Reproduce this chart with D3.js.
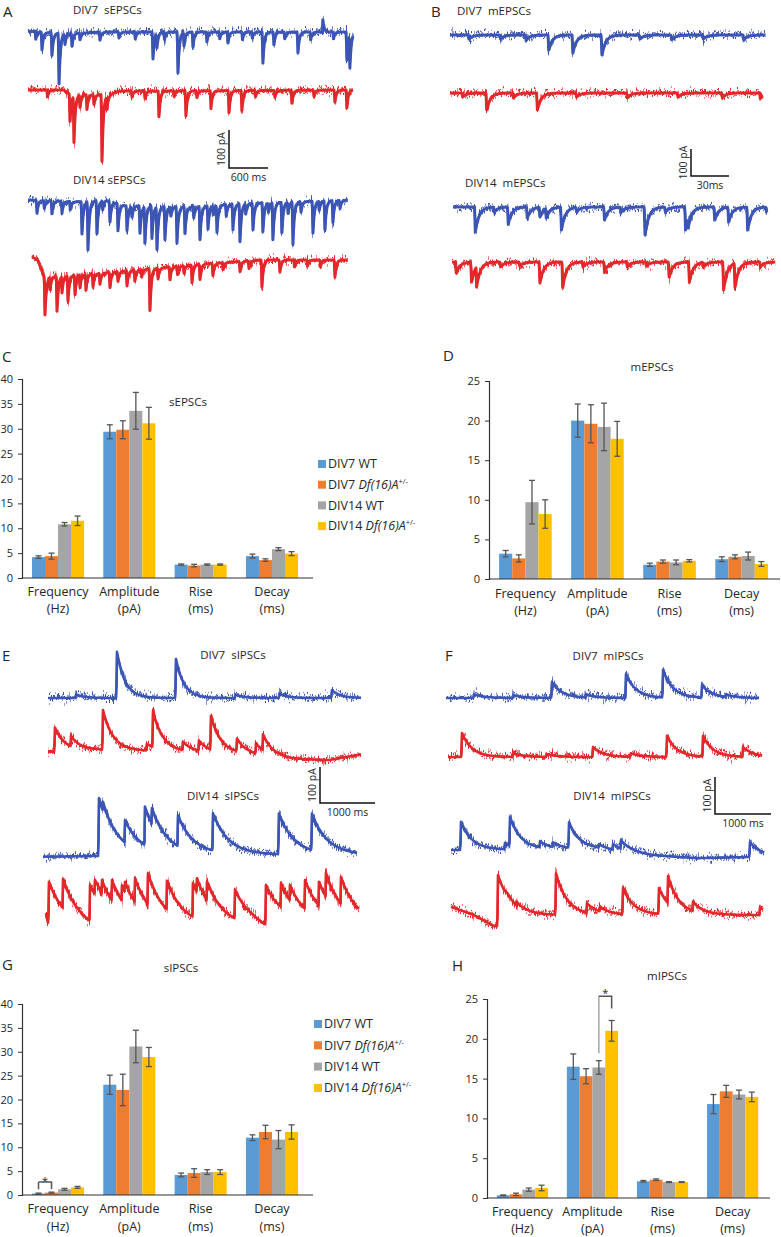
<!DOCTYPE html>
<html><head><meta charset="utf-8">
<script src="https://cdn.jsdelivr.net/npm/d3@7"></script>
<style>
html,body{margin:0;padding:0;background:#fff;}
svg{display:block;}
text{font-family:"Open Sans",sans-serif;fill:#262626;}
</style></head><body>
<svg id="fig" width="781" height="1237"></svg>
<script>
// ---------------- BAR CHART DATA ----------------
const categoryNames = ["Frequency","Amplitude","Rise","Decay"];
const categoryUnits = ["(Hz)","(pA)","(ms)","(ms)"];
const groupNames = ["DIV7 WT","DIV7 Df(16)A+/-","DIV14 WT","DIV14 Df(16)A+/-"];
const barColors = ["#5b9bd5","#ed7d31","#a5a5a5","#ffc000"];

const sEPSC_mean = [[4.2,4.4,10.8,11.5],[29.4,29.8,33.6,31.1],[2.7,2.5,2.7,2.7],[4.4,3.6,5.8,4.9]];
const sEPSC_sem  = [[0.25,0.6,0.35,0.95],[1.4,1.8,3.7,3.2],[0.12,0.25,0.12,0.12],[0.4,0.25,0.3,0.4]];
const mEPSC_mean = [[3.2,2.6,9.7,8.2],[20.0,19.6,19.2,17.7],[1.8,2.2,2.1,2.3],[2.5,2.8,2.9,1.9]];
const mEPSC_sem  = [[0.4,0.45,2.75,1.8],[2.1,2.4,3.0,2.2],[0.2,0.2,0.3,0.15],[0.3,0.25,0.5,0.3]];
const sIPSC_mean = [[0.3,0.5,1.2,1.6],[23.1,22.0,31.1,28.9],[4.2,4.6,4.8,4.8],[12.0,13.2,11.6,13.2]];
const sIPSC_sem  = [[0.1,0.1,0.2,0.2],[2.0,3.3,3.4,2.0],[0.4,0.9,0.5,0.5],[0.6,1.4,1.9,1.5]];
const mIPSC_mean = [[0.34,0.46,1.05,1.26],[16.5,15.3,16.4,21.0],[2.1,2.3,2.0,2.0],[11.8,13.4,13.0,12.7]];
const mIPSC_sem  = [[0.05,0.15,0.2,0.35],[1.6,0.95,0.85,1.3],[0.1,0.1,0.05,0.05],[1.2,0.75,0.55,0.6]];
const yTicks40 = [0,5,10,15,20,25,30,35,40];
const yTicks25 = [0,5,10,15,20,25];
// significance: [category, barA, barB, top, legA, legB]
const sigG = [0,0,1,2.7,1.2,1.2];
const sigH = [1,2,3,25.35,18.2,23.8];

// ---------------- TRACE DATA (events: [ms, pA], baseline drift: [ms, pA]) ----------------
// A: sEPSCs
const A7wt_span=[0,5000], A7wt_base=[[0,2],[600,-4],[1200,0],[5000,0]];
const A7wt_ev=[[120,-20],[215,-47],[369,-60],[477,-134],[569,-29],[677,-34],[800,-18],[1107,-21],[1400,-16],[1650,-18],[1923,-71],[1984,-42],[2100,-20],[2307,-108],[2400,-37],[2538,-39],[2753,-26],[2950,-18],[3076,-29],[3300,-20],[3450,-16],[3614,-82],[3783,-34],[3950,-18],[4153,-55],[4350,-20],[4537,32],[4700,-18],[4906,-74],[4952,-95]];
const A7df_span=[0,5000], A7df_base=[[0,0],[550,0],[650,-12],[1250,-12],[1400,-3],[5000,0]];
const A7df_ev=[[300,-18],[646,-71],[707,-126],[800,-34],[907,-39],[1015,-26],[1138,-176],[1215,-39],[1600,-16],[1800,-20],[2015,-68],[2250,-15],[2430,-66],[2600,-18],[2815,-47],[3092,-58],[3291,-53],[3500,-16],[3800,-18],[4060,-34],[4400,-16],[4722,-32],[4906,-47]];
const A14wt_span=[0,4920], A14wt_base=[[0,0],[800,-5],[1200,0],[1500,-15],[2500,-18],[3200,-10],[4920,0]];
const A14wt_ev=[[138,-34],[250,-20],[369,-34],[523,-32],[650,-22],[830,-85],[923,-128],[1061,-87],[1150,-25],[1261,-55],[1384,-72],[1523,-65],[1600,-30],[1723,-72],[1799,-98],[1907,-85],[1984,-114],[2000,-30],[2107,-88],[2200,-25],[2292,-96],[2415,-70],[2550,-30],[2646,-88],[2769,-62],[2850,-25],[2907,-72],[3050,-30],[3153,-68],[3261,-100],[3350,-28],[3461,-70],[3614,-76],[3700,-25],[3768,-98],[3906,-80],[4000,-30],[4076,-112],[4200,-28],[4384,-84],[4480,-25],[4568,-77],[4691,-58],[4800,-22]];
const A14df_span=[60,4920], A14df_base=[[60,8],[150,0],[250,-45],[1100,-35],[2500,-13],[3600,0],[4920,0]];
const A14df_ev=[[261,-100],[338,-34],[446,-92],[523,-45],[615,-68],[723,-52],[800,-34],[892,-42],[1000,-34],[1107,-29],[1261,-40],[1384,-26],[1523,-40],[1645,-29],[1750,-20],[1876,-110],[2000,-29],[2184,-34],[2300,-22],[2400,-20],[2523,-47],[2646,-40],[2845,-32],[3000,-18],[3261,-26],[3400,-20],[3599,-71],[3876,-32],[4100,-18],[4300,-16],[4500,-18],[4722,-45]];
// B: mEPSCs
const B7wt_span=[0,249], B7wt_base=[[0,0],[249,0]];
const B7wt_ev=[[15,-15],[40,-15],[60,-20],[78,-56],[97,-67],[120,-74],[150,-15],[175,-18],[200,-15],[232,-18]];
const B7df_span=[0,247], B7df_base=[[0,0],[247,0]];
const B7df_ev=[[10,-15],[29,-63],[50,-18],[69,-63],[100,-15],[140,-18],[180,-15],[215,-18],[245,-20]];
const B14wt_span=[2.4,250.5], B14wt_base=[[0,0],[251,0]];
const B14wt_ev=[[20,-93],[35,-18],[46,-63],[61,-41],[71,-37],[76,-41],[88,-85],[100,-18],[122,-48],[135,-20],[154,-104],[170,-18],[186,-85],[188,-78],[209,-48],[220,-56],[235,-85],[250,-15]];
const B14df_span=[1.6,256.7], B14df_base=[[0,0],[257,0]];
const B14df_ev=[[5,-41],[17,-74],[21,-93],[40,-18],[55,-15],[71,-78],[89,-93],[105,-18],[122,-37],[140,-18],[155,-15],[173,-56],[189,-74],[200,-18],[216,-104],[225,-93],[245,-18]];
// E: sIPSCs
const E7wt_span=[91,5781], E7wt_base=[[91,0],[5781,0]];
const E7wt_ev=[[600,10],[1345,128],[2418,108],[3500,10],[4300,12],[5254,22]];
const E7df_span=[91,5781], E7df_base=[[91,-5],[1000,0],[2000,-3],[3500,-10],[4500,-25],[5200,-28],[5781,-12]];
const E7df_ev=[[218,67],[509,42],[1091,111],[1891,20],[2000,111],[2545,28],[2836,33],[3054,103],[3527,42],[3872,35],[4000,61]];
const E14wt_span=[0,5709], E14wt_base=[[0,-2],[1000,0],[2000,5],[5709,3]];
const E14wt_ev=[[1018,161],[1090,150],[1491,97],[1854,133],[1981,128],[2454,108],[3091,114],[4290,114],[4890,114]];
const E14df_span=[55,5745], E14df_base=[[55,33],[100,0],[700,-10],[850,-15],[1000,0],[3800,-5],[4050,-15],[4300,0],[5745,0]];
const E14df_ev=[[109,120],[364,133],[855,125],[945,131],[1073,125],[1255,125],[1436,111],[1491,120],[1673,131],[1909,145],[2254,125],[2727,120],[2800,133],[2982,125],[3491,103],[4054,125],[4327,117],[4491,111],[4764,125],[5018,120],[5145,145],[5418,133]];
// F: mIPSCs
const F7wt_span=[0,5590], F7wt_base=[[0,0],[5590,0]];
const F7wt_ev=[[500,10],[1200,8],[1893,43],[2500,10],[3215,65],[3876,76],[4572,35],[5000,10]];
const F7df_span=[36,5644], F7df_base=[[36,0],[5644,0]];
const F7df_ev=[[286,65],[1200,10],[1800,8],[2625,27],[3300,10],[3947,57],[4590,57],[5304,27]];
const F14wt_span=[89,5680], F14wt_base=[[89,0],[2700,2],[3600,-14],[4500,-22],[5680,-18]];
const F14wt_ev=[[268,76],[1054,19],[1143,89],[1679,22],[1911,19],[2197,73],[2732,14],[2983,19],[3125,32],[5429,40]];
const F14df_span=[89,5662], F14df_base=[[89,22],[500,0],[850,-30],[929,-30],[1100,0],[5662,0]];
const F14df_ev=[[929,138],[1268,35],[1965,113],[2518,32],[2750,22],[3161,73],[3804,73],[3965,105],[4411,35],[5608,20]];

// ---------------- DRAWING ----------------
const svg = d3.select("#fig");
svg.append("rect").attr("width",781).attr("height",1237).attr("fill","#fff");
const defs = svg.append("defs");
function makeJitter(id, seed, scale){
  const f = defs.append("filter").attr("id",id).attr("x","-3%").attr("y","-60%").attr("width","106%").attr("height","220%").attr("color-interpolation-filters","sRGB");
  f.append("feTurbulence").attr("type","fractalNoise").attr("baseFrequency","0.95 0.05").attr("numOctaves",2).attr("seed",seed).attr("result","n");
  f.append("feColorMatrix").attr("in","n").attr("type","matrix").attr("values","0 0 0 0 0.5  0 1 0 0 0  0 0 0 0 0  0 0 0 0 1").attr("result","m");
  f.append("feDisplacementMap").attr("in","SourceGraphic").attr("in2","m").attr("scale",scale).attr("xChannelSelector","R").attr("yChannelSelector","G");
}
makeJitter("jit1",3,16);
makeJitter("jit2",11,20);

const BLUE="#3c55b5", RED="#e3282b";

function sampleTrace(ev, base, span, tau, rise, step){
  const bs = d3.scaleLinear().domain(base.map(d=>d[0])).range(base.map(d=>d[1])).clamp(true);
  const ts = d3.range(span[0], span[1], step).concat([span[1]]);
  ev.forEach(e=>{ if(e[0]>=span[0] && e[0]<=span[1]) ts.push(e[0]); });
  ts.sort((a,b)=>a-b);
  return ts.map(t=>{
    let e=0;
    for(const [te,a] of ev){
      const dt=t-te; let k=0;
      if(dt>=0) k=Math.exp(-dt/tau); else if(dt>-rise) k=1+dt/rise;
      const v=a*k; if(Math.abs(v)>Math.abs(e)) e=v;
    }
    return [t, bs(t)+e];
  });
}

const tracePanels = [
  {x0:28, msRef:600, pxRef:39, pxPA:38, rise:10, sb:[229,168], msLabel:"600 ms", core:3.0,
   traces:[{ev:A7wt_ev,base:A7wt_base,span:A7wt_span,tau:22,y:32,c:BLUE},
           {ev:A7df_ev,base:A7df_base,span:A7df_span,tau:22,y:90,c:RED},
           {ev:A14wt_ev,base:A14wt_base,span:A14wt_span,tau:22,y:200,c:BLUE},
           {ev:A14df_ev,base:A14df_base,span:A14df_span,tau:22,y:260,c:RED}]},
  {x0:450, msRef:30, pxRef:38, pxPA:27, rise:0.6, sb:[691,176], msLabel:"30ms", core:3.0,
   traces:[{ev:B7wt_ev,base:B7wt_base,span:B7wt_span,tau:3,y:35,c:BLUE},
           {ev:B7df_ev,base:B7df_base,span:B7df_span,tau:3,y:93,c:RED},
           {ev:B14wt_ev,base:B14wt_base,span:B14wt_span,tau:3,y:207,c:BLUE},
           {ev:B14df_ev,base:B14df_base,span:B14df_span,tau:3,y:262,c:RED}]},
  {x0:43, msRef:1000, pxRef:55, pxPA:36, rise:12, sb:[320,803], msLabel:"1000 ms", core:2.6,
   traces:[{ev:E7wt_ev,base:E7wt_base,span:E7wt_span,tau:150,y:698,c:BLUE},
           {ev:E7df_ev,base:E7df_base,span:E7df_span,tau:180,y:750,c:RED},
           {ev:E14wt_ev,base:E14wt_base,span:E14wt_span,tau:280,y:856,c:BLUE},
           {ev:E14df_ev,base:E14df_base,span:E14df_span,tau:300,y:925,c:RED}]},
  {x0:446, msRef:1000, pxRef:56, pxPA:37, rise:12, sb:[715,814], msLabel:"1000 ms", core:2.6,
   traces:[{ev:F7wt_ev,base:F7wt_base,span:F7wt_span,tau:180,y:698,c:BLUE},
           {ev:F7df_ev,base:F7df_base,span:F7df_span,tau:180,y:757,c:RED},
           {ev:F14wt_ev,base:F14wt_base,span:F14wt_span,tau:200,y:850,c:BLUE},
           {ev:F14df_ev,base:F14df_base,span:F14df_span,tau:200,y:915,c:RED}]}
];

tracePanels.forEach(p=>{
  const g = svg.append("g");
  const x = d3.scaleLinear().domain([0,p.msRef]).range([p.x0,p.x0+p.pxRef]);
  const step = p.msRef/p.pxRef*0.5;
  p.traces.forEach(tr=>{
    const y = d3.scaleLinear().domain([0,100]).range([tr.y, tr.y-p.pxPA]);
    const pts = sampleTrace(tr.ev,tr.base,tr.span,tr.tau,p.rise,step);
    const d = d3.line().x(d=>x(d[0])).y(d=>y(d[1]))(pts);
    g.append("path").attr("d",d).attr("fill","none").attr("stroke",tr.c).attr("stroke-width",p.core).attr("stroke-linejoin","round");
    g.append("path").attr("d",d).attr("fill","none").attr("stroke",tr.c).attr("stroke-width",2.0).attr("filter","url(#jit1)");
    g.append("path").attr("d",d).attr("fill","none").attr("stroke",tr.c).attr("stroke-width",1.6).attr("stroke-opacity",0.75).attr("filter","url(#jit2)");
  });
  const [sx,sy] = p.sb;
  const hLen = x(p.msRef)-x(0);
  const vLen = p.pxPA;
  g.append("path").attr("d",`M${sx},${sy-vLen}V${sy}H${sx+hLen}`).attr("fill","none").attr("stroke","#111").attr("stroke-width",1.5);
  g.append("text").attr("transform",`translate(${sx-4},${sy-vLen/2}) rotate(-90)`).attr("text-anchor","middle").attr("font-size",10.5).text("100 pA");
  g.append("text").attr("x",sx+hLen/2).attr("y",sy+13).attr("text-anchor","middle").attr("font-size",10.5).text(p.msLabel);
});

// trace titles
const traceTitles = [
  ["DIV7  sEPSCs",73,14,"start"],["DIV14 sEPSCs",73,184,"start"],
  ["DIV7  mEPSCs",457,15,"start"],["DIV14  mEPSCs",465,187,"start"],
  ["DIV7  sIPSCs",233,659,"middle"],["DIV14  sIPSCs",223,800,"middle"],
  ["DIV7  mIPSCs",608,660,"middle"],["DIV14  mIPSCs",612,800,"middle"]
];
traceTitles.forEach(t=>{
  svg.append("text").attr("x",t[1]).attr("y",t[2]).attr("text-anchor",t[3]).attr("font-size",11.5).style("white-space","pre").text(t[0]);
});

// panel letters
[["A",3,17],["B",431,17],["C",2,362],["D",443,361],["E",2,661],["F",445,661],["G",2,970],["H",452,971]].forEach(l=>{
  svg.append("text").attr("x",l[1]).attr("y",l[2]).attr("font-size",15).attr("fill","#111").text(l[0]);
});

// ---------------- BAR CHARTS ----------------
function barChart(cfg){
  const g = svg.append("g");
  const x0 = d3.scaleBand().domain(categoryNames).range([cfg.xl,cfg.xr]).paddingInner(0.27).paddingOuter(0.14);
  const x1 = d3.scaleBand().domain(groupNames).range([0,x0.bandwidth()]);
  const y = d3.scaleLinear().domain([0,cfg.max]).range([cfg.yb,cfg.yt]);
  cfg.mean.forEach((row,ci)=>{
    row.forEach((v,gi)=>{
      g.append("rect").attr("x",x0(categoryNames[ci])+x1(groupNames[gi])).attr("y",y(v))
        .attr("width",x1.bandwidth()).attr("height",y(0)-y(v)).attr("fill",barColors[gi]);
    });
  });
  cfg.mean.forEach((row,ci)=>{
    row.forEach((v,gi)=>{
      const s = cfg.sem[ci][gi];
      const cx = x0(categoryNames[ci])+x1(groupNames[gi])+x1.bandwidth()/2;
      const eb = g.append("g").attr("stroke","#555").attr("stroke-width",1.3);
      eb.append("line").attr("x1",cx).attr("x2",cx).attr("y1",y(v-s)).attr("y2",y(v+s));
      eb.append("line").attr("x1",cx-3).attr("x2",cx+3).attr("y1",y(v-s)).attr("y2",y(v-s));
      eb.append("line").attr("x1",cx-3).attr("x2",cx+3).attr("y1",y(v+s)).attr("y2",y(v+s));
    });
  });
  const ax = g.append("g").attr("transform",`translate(${cfg.xl},0)`)
    .call(d3.axisLeft(y).tickValues(cfg.ticks).tickSize(4).tickPadding(5).tickFormat(d3.format("d")));
  ax.select(".domain").attr("stroke","#333").attr("stroke-width",1.2);
  ax.selectAll(".tick line").attr("stroke","#333");
  ax.selectAll(".tick text").attr("font-family","Open Sans").attr("font-size",11).attr("fill","#333");
  g.append("line").attr("x1",cfg.xl).attr("x2",cfg.xe).attr("y1",y(0)).attr("y2",y(0)).attr("stroke","#333").attr("stroke-width",1.2);
  categoryNames.forEach((c,i)=>{
    const cx = x0(c)+x0.bandwidth()/2;
    g.append("text").attr("x",cx).attr("y",cfg.lab1).attr("text-anchor","middle").attr("font-size",12.5).attr("fill","#333").text(c);
    g.append("text").attr("x",cx).attr("y",cfg.lab2).attr("text-anchor","middle").attr("font-size",12.5).attr("fill","#333").text(categoryUnits[i]);
  });
  g.append("text").attr("x",cfg.tx).attr("y",cfg.ty).attr("text-anchor","middle").attr("font-size",11.5).text(cfg.title);
  if(cfg.sig){
    const [ci,a,b,top,la,lb] = cfg.sig;
    const xa = x0(categoryNames[ci])+x1(groupNames[a])+x1.bandwidth()/2;
    const xb = x0(categoryNames[ci])+x1(groupNames[b])+x1.bandwidth()/2;
    g.append("path").attr("d",`M${xa},${y(la)}V${y(top)}`).attr("fill","none").attr("stroke",cfg.sigLeft).attr("stroke-width",1.5);
    g.append("path").attr("d",`M${xa},${y(top)}H${xb}V${y(lb)}`).attr("fill","none").attr("stroke","#555").attr("stroke-width",1.5);
    g.append("text").attr("x",(xa+xb)/2).attr("y",y(top)+cfg.starDy).attr("text-anchor","middle").attr("font-size",11).attr("fill","#444").text("*");
  }
  if(cfg.leg){
    const [lx,ly,dy] = cfg.leg;
    groupNames.forEach((nm,i)=>{
      const yy = ly+i*dy;
      g.append("rect").attr("x",lx).attr("y",yy-4).attr("width",8).attr("height",8).attr("fill",barColors[i]);
      const t = g.append("text").attr("x",lx+10).attr("y",yy+4.3).attr("font-family","Liberation Sans, Arial, sans-serif").attr("font-size",12.5).attr("fill","#333");
      const m = nm.match(/^(\S+ )(Df\(16\)A)(\+\/-)$/);
      if(m){
        t.append("tspan").text(m[1]);
        t.append("tspan").attr("font-style","italic").text(m[2]);
        t.append("tspan").attr("font-size",7.5).attr("dy",-5).text(m[3]);
      } else t.text(nm);
    });
  }
}

barChart({mean:sEPSC_mean,sem:sEPSC_sem,max:40,ticks:yTicks40,xl:22,xr:308,xe:313,yb:578,yt:379,lab1:596,lab2:613,title:"sEPSCs",tx:188,ty:406,leg:[318,464,20.7]});
barChart({mean:mEPSC_mean,sem:mEPSC_sem,max:25,ticks:yTicks25,xl:489,xr:778,xe:780,yb:579,yt:381,lab1:598,lab2:615,title:"mEPSCs",tx:652,ty:371});
barChart({mean:sIPSC_mean,sem:sIPSC_sem,max:40,ticks:yTicks40,xl:22,xr:308,xe:313,yb:1195,yt:1004,lab1:1213,lab2:1231,title:"sIPSCs",tx:181,ty:972,leg:[314,1024,21.3],sig:sigG,sigLeft:"#555",starDy:3});
barChart({mean:mIPSC_mean,sem:mIPSC_sem,max:25,ticks:yTicks25,xl:487,xr:768,xe:770,yb:1198,yt:999,lab1:1216,lab2:1233,title:"mIPSCs",tx:667,ty:980,sig:sigH,sigLeft:"#a6a6a6",starDy:1});
</script>
</body></html>
